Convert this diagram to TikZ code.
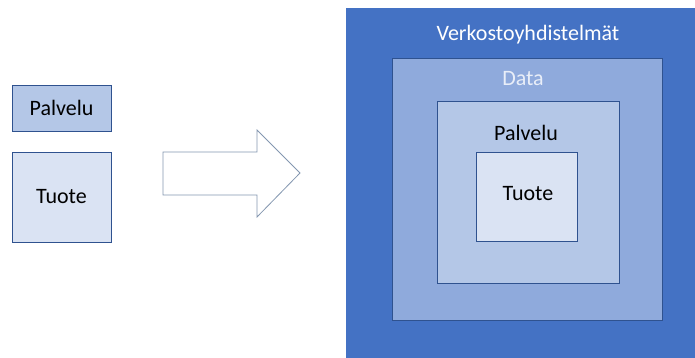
\documentclass[tikz,border=0pt]{standalone}
\usepackage{fontspec}
\setmainfont{Carlito}
\definecolor{c1}{HTML}{4472C4}
\definecolor{c2}{HTML}{8FAADC}
\definecolor{c3}{HTML}{B4C7E7}
\definecolor{c4}{HTML}{DAE3F3}
\definecolor{c5}{HTML}{E9EEF8}
\definecolor{bd}{HTML}{2F528F}
\definecolor{ar}{HTML}{8497B0}
\begin{document}
\begin{tikzpicture}[x=1pt,y=-1pt,
  boxst/.style={draw=bd,line width=0.8pt},
  lbl/.style={font=\fontsize{22}{26}\selectfont,inner sep=0pt,anchor=base}]
\useasboundingbox (0,0) rectangle (695,358);
% left boxes
\draw[boxst,fill=c3] (12,85) rectangle (111,131);
\node[lbl] (lp) at (61.5,115.5) {Palvelu};
\draw[boxst,fill=c4] (12,152) rectangle (111,242);
\node[lbl] (lt) at (61.5,203.5) {Tuote};
% arrow
\draw[draw=ar,fill=white,line width=0.8pt] (163,152) -- (257,152) -- (257,130) -- (300,173) -- (257,217) -- (257,195) -- (163,195) -- cycle;
% nested boxes
\draw[fill=c1,draw=c1] (346,8) rectangle (695,358);
\node[lbl,text=white] (lv) at (528,40.5) {Verkostoyhdistelmät};
\draw[boxst,fill=c2] (392,58) rectangle (662,320);
\node[lbl,text=c5] (ld) at (523,85.5) {Data};
\draw[boxst,fill=c3] (437,101) rectangle (619,283);
\node[lbl] (lpp) at (526,140.5) {Palvelu};
\draw[boxst,fill=c4] (476,152) rectangle (577,241);
\node[lbl] (ltt) at (528,200.5) {Tuote};
\end{tikzpicture}
\end{document}
